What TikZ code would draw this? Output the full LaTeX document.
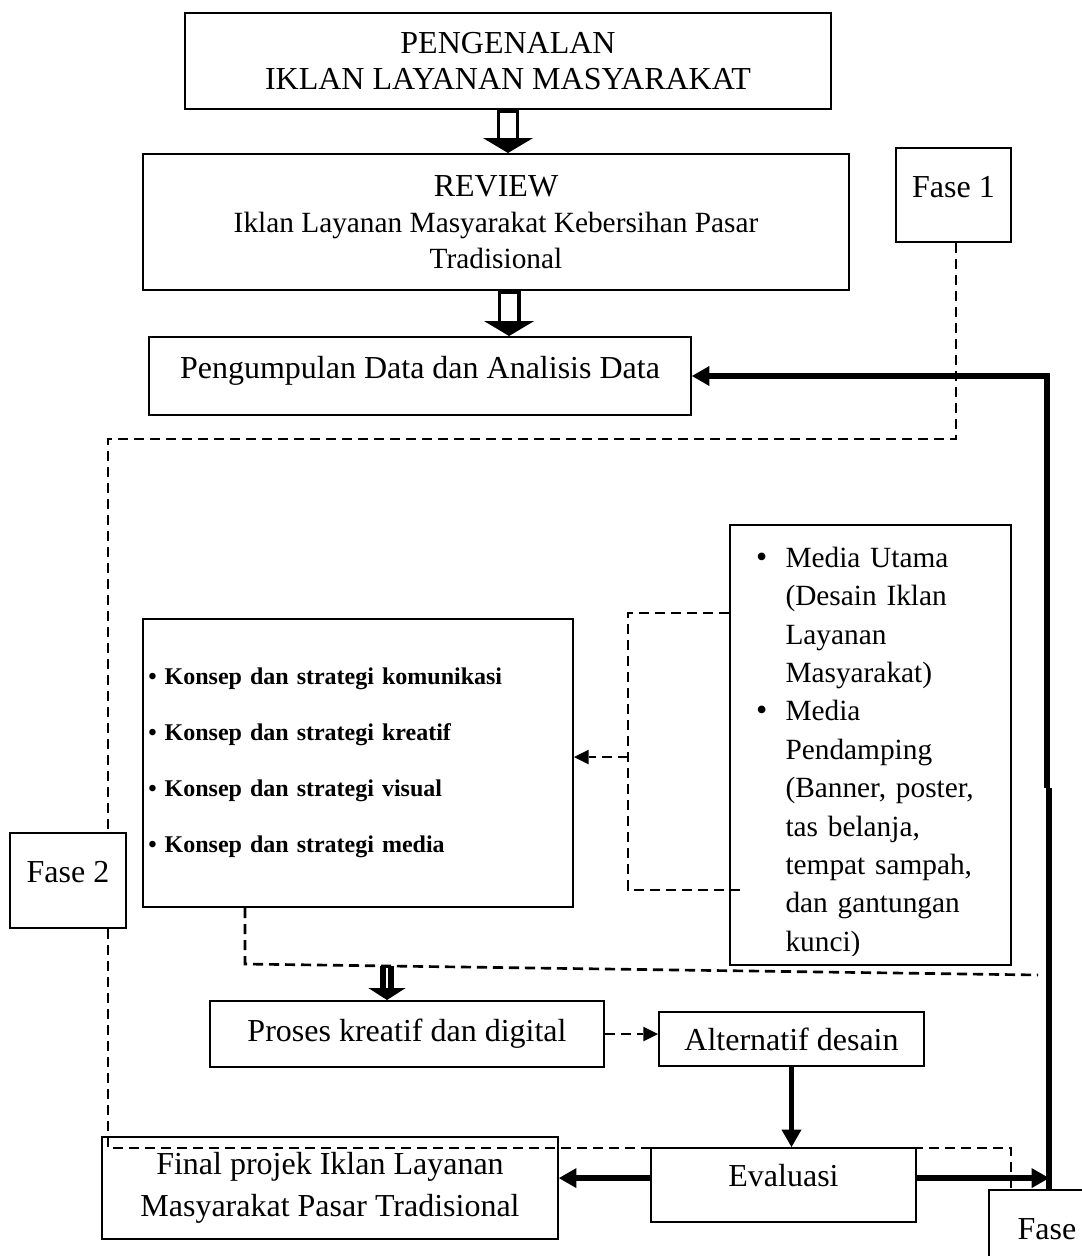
\documentclass[tikz,border=0pt]{standalone}
\usepackage{fontspec}
\setmainfont{Liberation Serif}
\usetikzlibrary{arrows.meta}

\tikzstyle{bx} = [rectangle, draw=black, line width=0.75pt, fill=white, inner sep=0pt, align=center, font=\fontsize{12}{14.6}\selectfont]
\tikzstyle{fase} = [bx, minimum width=43.3pt, minimum height=35.4pt, text height=8.5pt, text depth=6.7pt]
\tikzstyle{dsh} = [line width=1pt, dash pattern=on 3.8pt off 2.2pt]
\tikzstyle{dtip} = [-{Triangle[width=5.5pt,length=5.5pt,line width=0pt]}]
\tikzstyle{heavy} = [line width=2pt, -{Triangle[width=7.5pt,length=6.5pt,line width=0pt]}]
\tikzstyle{hollow} = [line width=8.6pt, -{Triangle[width=18.75pt,length=5.6pt,line width=0pt]}, postaction={draw=white, line width=6.2pt, -, shorten >=5.6pt, shorten <=1.2pt}]
\tikzstyle{slim} = [line width=5.2pt, -{Triangle[width=14pt,length=4.5pt,line width=0pt]}, postaction={draw=white, line width=0.6pt, -, shorten >=4.5pt, shorten <=0.8pt}]

\begin{document}
\begin{tikzpicture}[x=0.375pt, y=-0.375pt]
\useasboundingbox (0,0) rectangle (1082,1256);
\clip (0,0) rectangle (1082,1256);

% boxes
\node[bx, minimum width=242.25pt, minimum height=36pt, font=\fontsize{12}{13.5}\selectfont] (intro) at (508,61) {PENGENALAN\\IKLAN LAYANAN MASYARAKAT};
\node[bx, minimum width=264.75pt, minimum height=51pt, font=\fontsize{11}{13.5}\selectfont] (review) at (496,222) {{\fontsize{12}{13.5}\selectfont REVIEW}\\Iklan Layanan Masyarakat Kebersihan Pasar\\Tradisional};
\node[bx, minimum width=203.25pt, minimum height=29.25pt, text height=8.5pt, text depth=7pt] (data) at (420,376) {Pengumpulan Data dan Analisis Data};
\node[fase] (fase1) at (953.5,195) {Fase 1};
\node[fase] (fase2) at (68,880.5) {Fase 2};
\node[bx, minimum width=161.25pt, minimum height=108pt, text width=157.25pt, inner xsep=2pt, align=left, font=\bfseries\fontsize{9}{21}\selectfont] (konsep) at (358,763) {\textbullet\ Konsep dan strategi komunikasi\\\textbullet\ Konsep dan strategi kreatif\\\textbullet\ Konsep dan strategi visual\\\textbullet\ Konsep dan strategi media\\[4pt]};
\node[bx, minimum width=105.4pt, minimum height=165pt] (media) at (870.5,745) {};
\begin{scope}
\clip (media.north west) rectangle ([yshift=4pt]media.south east);
\node[anchor=north west, inner sep=0pt, align=left, text width=104pt, font=\fontsize{11}{14.4}\selectfont] (mlist) at ([yshift=-8.4pt]media.north west) {%
\hspace*{10pt}\makebox[11pt][l]{\large\textbullet}Media Utama\\
\hspace*{21pt}(Desain Iklan\\
\hspace*{21pt}Layanan\\
\hspace*{21pt}Masyarakat)\\
\hspace*{10pt}\makebox[11pt][l]{\large\textbullet}Media\\
\hspace*{21pt}Pendamping\\
\hspace*{21pt}(Banner, poster,\\
\hspace*{21pt}tas belanja,\\
\hspace*{21pt}tempat sampah,\\
\hspace*{21pt}dan gantungan\\
\hspace*{21pt}kunci)};
\end{scope}
\node[bx, minimum width=147.75pt, minimum height=24.75pt] (proses) at (407,1034) {Proses kreatif dan digital};
\node[bx, minimum width=99.4pt, minimum height=20.25pt] (alt) at (791.5,1039) {Alternatif desain};
\node[bx, minimum width=99.4pt, minimum height=27.75pt, text height=8.5pt, text depth=7.5pt] (eval) at (783.5,1185) {Evaluasi};
\node[bx, minimum width=171pt, minimum height=38.25pt, font=\fontsize{12}{15.75}\selectfont] (final) at (330,1188) {Final projek Iklan Layanan\\Masyarakat Pasar Tradisional};
\node[fase] (fase3) at (1047,1237) {Fase};

% hollow arrows
\draw[hollow] (intro.south) -- (intro.south |- review.north);
\draw[hollow] ([xshift=4.9pt]review.south) -- ([xshift=4.9pt]review.south |- data.north);

% phase lines
\coordinate (f1turn) at (956,439);
\coordinate (f2turn) at (108,439);
\coordinate (f2low) at (108,1148);
\coordinate (f3turn) at (1011,1148);
\draw[dsh] (fase1.south -| f1turn) -- (f1turn) -- (f2turn) -- (f2turn |- fase2.north);
\draw[dsh] (f2turn |- fase2.south) -- (f2low) -- (f3turn) -- (f3turn |- fase3.north);

% media to konsep
\coordinate (mup) at (628,613);
\coordinate (mdown) at (628,890);
\coordinate (mend) at (740,890);
\coordinate (mmid) at (628,757);
\draw[dsh] (media.west |- mup) -- (mup) -- (mdown) -- (mend);
\draw[dsh, dtip] (mmid) -- (mmid -| konsep.east);

% konsep to proses
\coordinate (kbend) at (245,964);
\coordinate (kend) at (1038,975);
\coordinate (ktip) at (387,966);
\draw[dsh] (konsep.south -| kbend) -- (kbend) -- (kend);
\draw[slim] (ktip) -- (ktip |- proses.north);

\draw[dsh, dtip] (proses.east) -- (proses.east -| alt.west);
\draw[heavy] (alt.south) -- (alt.south |- eval.north);
\draw[heavy] ([yshift=2.6pt]eval.west) -- ([yshift=2.6pt]eval.west -| final.east);

% loop back
\coordinate (loopbot) at (1049,1190);
\coordinate (jog) at (1049,788);
\coordinate (jog2) at (1047,788);
\draw[heavy] ([yshift=2.6pt]eval.east) -- ([yshift=2.6pt]eval.east -| loopbot);
\draw[line width=2pt] (loopbot) -- (jog);
\draw[heavy] (jog2) |- (data.east);
\end{tikzpicture}
\end{document}
